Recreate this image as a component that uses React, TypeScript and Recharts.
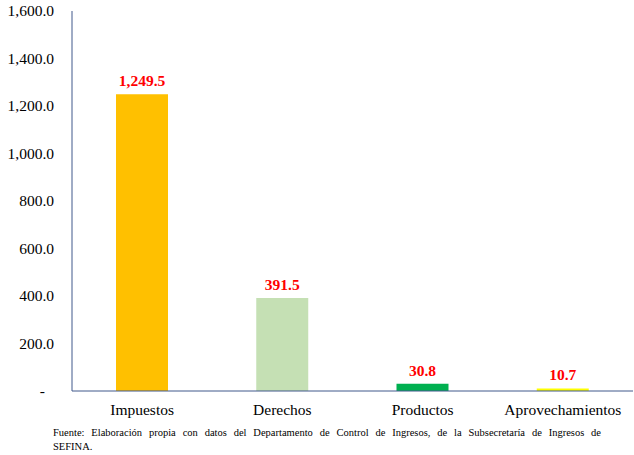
import { Bar, BarChart, Cell, LabelList, XAxis, YAxis } from "recharts";

const categories = ["Impuestos", "Derechos", "Productos", "Aprovechamientos"];
const values = [1249.5, 391.5, 30.8, 10.7];
const barColors = ["#FFC000", "#C5E0B4", "#00B050", "#FFFF00"];
const yTicks = [0, 200, 400, 600, 800, 1000, 1200, 1400, 1600];

const data = categories.map((name, i) => ({ name, value: values[i] }));

const FONT = '"Liberation Serif", "Times New Roman", serif';
const AXIS = "#41598B";

const fmt = (v: number) =>
  v.toLocaleString("en-US", { minimumFractionDigits: 1, maximumFractionDigits: 1 });

// eslint-disable-next-line @typescript-eslint/no-explicit-any
function YTick({ x, y, payload }: any) {
  const zero = payload.value === 0;
  return (
    <text
      x={zero ? x - 9 : x}
      y={y}
      dy="0.35em"
      textAnchor="end"
      fontFamily={FONT}
      fontSize={15.5}
      fill="#000"
    >
      {zero ? "-" : fmt(payload.value)}
    </text>
  );
}

export default function App() {
  return (
    <div style={{ position: "absolute", left: 0, top: 0, width: 634, height: 455, background: "#fff" }}>
      <BarChart
        width={634}
        height={420}
        data={data}
        margin={{ top: 11, right: 1, left: 0, bottom: 0 }}
      >
        <XAxis
          dataKey="name"
          height={29}
          stroke={AXIS}
          tickLine={false}
          tickSize={0}
          tickMargin={13}
          tick={{ fontFamily: FONT, fontSize: 15.5, fill: "#000" }}
          interval={0}
        />
        <YAxis
          width={72}
          domain={[0, 1600]}
          ticks={yTicks}
          stroke={AXIS}
          tickLine={false}
          tickSize={0}
          tickMargin={18}
          tick={<YTick />}
          interval={0}
        />
        <Bar dataKey="value" barSize={52} isAnimationActive={false}>
          {data.map((d, i) => (
            <Cell key={d.name} fill={barColors[i]} />
          ))}
          <LabelList
            dataKey="value"
            position="top"
            offset={8}
            formatter={(v: number) => fmt(v)}
            style={{ fontFamily: FONT, fontSize: 15.5, fontWeight: "bold", fill: "#FF0000" }}
          />
        </Bar>
      </BarChart>
      <div
        style={{
          position: "absolute",
          left: 53,
          top: 426,
          width: 548,
          fontFamily: FONT,
          fontSize: 10.5,
          lineHeight: "14px",
          color: "#000",
        }}
      >
        <div style={{ textAlign: "justify", textAlignLast: "justify", whiteSpace: "nowrap" }}>
          Fuente: Elaboración propia con datos del Departamento de Control de Ingresos, de la Subsecretaría de Ingresos de
        </div>
        <div>SEFINA.</div>
      </div>
    </div>
  );
}
